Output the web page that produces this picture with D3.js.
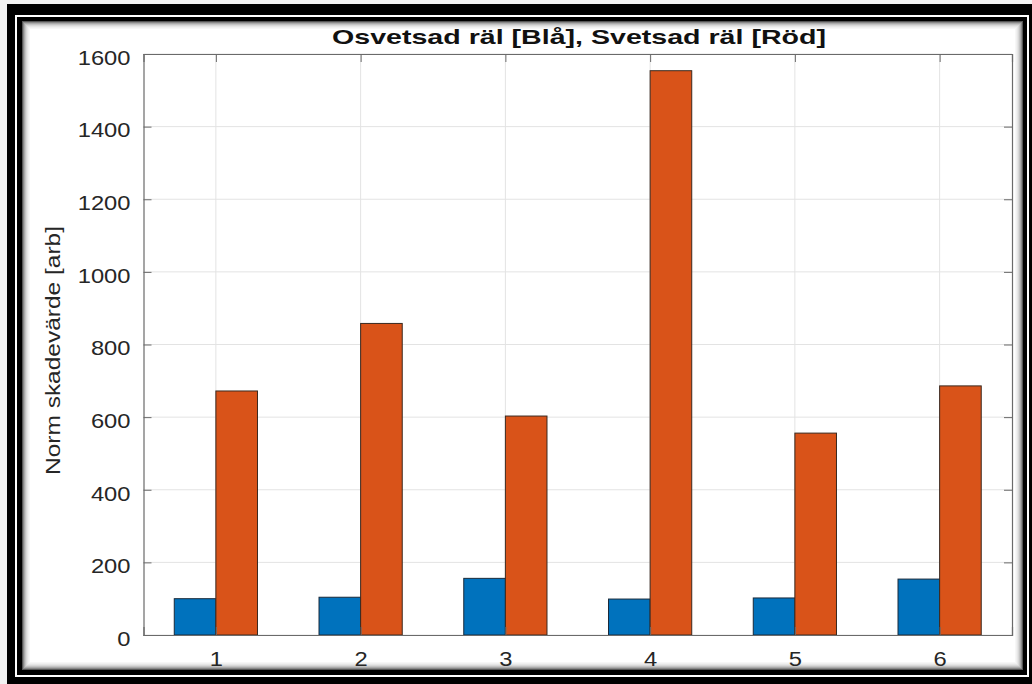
<!DOCTYPE html>
<html><head><meta charset="utf-8">
<script src="https://cdn.jsdelivr.net/npm/d3@7"></script>
<style>html,body{margin:0;padding:0;background:#fff;}svg{display:block;}</style>
</head><body>
<svg id="c" width="1032" height="684"></svg>
<script>
const categories = [1, 2, 3, 4, 5, 6];
const osvetsad = [100, 104, 156, 99, 102, 154];   // blue
const svetsad  = [672, 858, 603, 1554, 556, 686]; // orange
const yTicks = [0, 200, 400, 600, 800, 1000, 1200, 1400, 1600];
const titleText = "Osvetsad räl [Blå], Svetsad räl [Röd]";
const yLabel = "Norm skadevärde [arb]";

const W = 1032, H = 684;
const FONT = "Liberation Sans, Arial, Helvetica, sans-serif";
const svg = d3.select("#c");

// frame
svg.append("rect").attr("x",0).attr("y",0).attr("width",W).attr("height",H).attr("fill","#f2f2f2");
svg.append("rect").attr("x",7).attr("y",4).attr("width",W-7).attr("height",H-4).attr("fill","#000");
svg.append("rect").attr("x",15).attr("y",15).attr("width",1029-15).attr("height",677-15).attr("fill","#fff");
svg.append("rect").attr("x",17).attr("y",17).attr("width",1027-17).attr("height",675-17).attr("fill","#000");
const shades = ["#555","#888","#aaa","#c4c4c4","#d8d8d8","#e6e6e6","#f0f0f0","#f7f7f7"];
const ix0 = 22, iy0 = 21, ix1 = 1023, iy1 = 670;
shades.forEach((c,i)=>{
  svg.append("rect").attr("x",ix0+i).attr("y",iy0+i)
    .attr("width",ix1-ix0-2*i).attr("height",iy1-iy0-2*i).attr("fill",c);
});
svg.append("rect").attr("x",ix0+8).attr("y",iy0+8)
  .attr("width",ix1-ix0-16).attr("height",iy1-iy0-16).attr("fill","#fff");

const L = 143.5, R = 1012, T = 54, B = 635;
const x = d3.scaleLinear().domain([0.5, 6.5]).range([L, R]);
const y = d3.scaleLinear().domain([0, 1600]).range([B, T]);
const bw = 0.2875;

const g = svg.append("g");
g.selectAll(".gy").data(yTicks).enter().append("line")
  .attr("x1",L).attr("x2",R).attr("y1",d=>y(d)).attr("y2",d=>y(d))
  .attr("stroke","#e3e3e3").attr("stroke-width",1);
g.selectAll(".gx").data(categories).enter().append("line")
  .attr("y1",T).attr("y2",B).attr("x1",d=>x(d)).attr("x2",d=>x(d))
  .attr("stroke","#e3e3e3").attr("stroke-width",1);

g.selectAll(".b1").data(categories).enter().append("rect")
  .attr("x",(d)=>x(d-bw)).attr("width",(d)=>x(d)-x(d-bw))
  .attr("y",(d,i)=>y(osvetsad[i])).attr("height",(d,i)=>B-y(osvetsad[i]))
  .attr("fill","#0072BD").attr("stroke","#1a2a3a").attr("stroke-width",1);
g.selectAll(".b2").data(categories).enter().append("rect")
  .attr("x",(d)=>x(d)).attr("width",(d)=>x(d+bw)-x(d))
  .attr("y",(d,i)=>y(svetsad[i])).attr("height",(d,i)=>B-y(svetsad[i]))
  .attr("fill","#D95319").attr("stroke","#3a2a20").attr("stroke-width",1);

const tickLen = 8;
const ax = svg.append("g").attr("transform",`translate(${L},0)`)
  .call(d3.axisLeft(y).tickValues(yTicks).tickSize(-tickLen).tickPadding(13).tickFormat(d3.format("d")));
const axB = svg.append("g").attr("transform",`translate(0,${B})`)
  .call(d3.axisBottom(x).tickValues(categories).tickSize(-tickLen).tickPadding(16).tickFormat(d3.format("d")));
const axT = svg.append("g").attr("transform",`translate(0,${T})`)
  .call(d3.axisTop(x).tickValues(categories).tickSize(-tickLen).tickFormat(""));
const axR = svg.append("g").attr("transform",`translate(${R},0)`)
  .call(d3.axisRight(y).tickValues(yTicks).tickSize(-tickLen).tickFormat(""));
[ax,axB,axT,axR].forEach(a=>{
  a.selectAll(".domain").attr("stroke","#6a6a6a").attr("stroke-width",1.2);
  a.selectAll(".tick line").attr("stroke","#6a6a6a");
  a.selectAll("text").attr("fill","#262626").attr("font-family",FONT).attr("font-size",20.5);
});
ax.selectAll(".tick text").attr("dy","0.5em")
  .attr("textLength",function(){return this.textContent.length*13.2;})
  .attr("lengthAdjust","spacingAndGlyphs");
axB.selectAll(".tick text").attr("dy","0.71em")
  .attr("textLength",function(){return this.textContent.length*13.2;})
  .attr("lengthAdjust","spacingAndGlyphs");

svg.append("text").attr("x",579).attr("y",44).attr("text-anchor","middle")
  .attr("font-family",FONT).attr("font-weight","bold")
  .attr("font-size",21).attr("fill","#111")
  .attr("textLength",494).attr("lengthAdjust","spacingAndGlyphs").text(titleText);
svg.append("text").attr("transform",`translate(60,350.5) rotate(-90)`).attr("text-anchor","middle")
  .attr("font-family",FONT).attr("font-size",21).attr("fill","#262626")
  .attr("textLength",249).attr("lengthAdjust","spacingAndGlyphs").text(yLabel);
</script>
</body></html>
